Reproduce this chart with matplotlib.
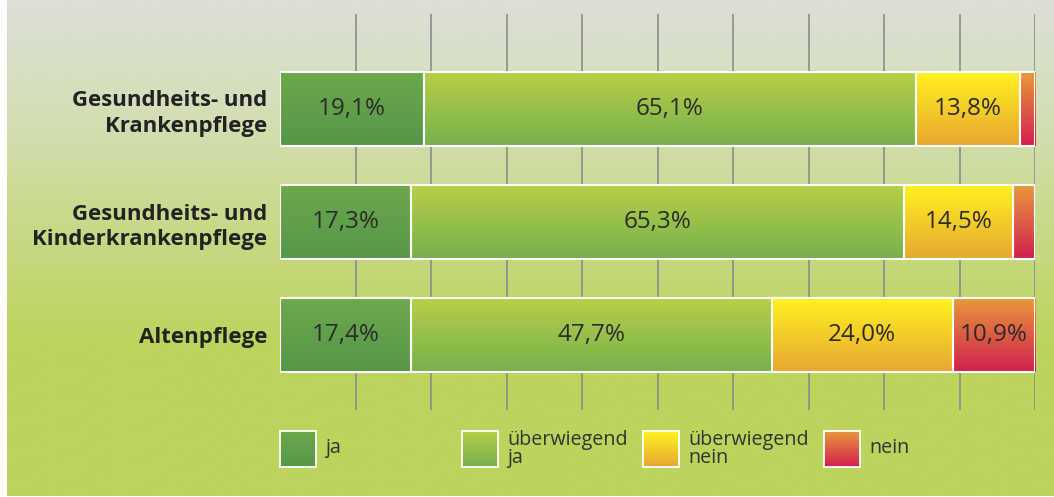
import numpy as np
import matplotlib.pyplot as plt
from matplotlib.colors import LinearSegmentedColormap, to_rgb

# data
categories = ['Gesundheits- und\nKrankenpflege',
              'Gesundheits- und\nKinderkrankenpflege',
              'Altenpflege']
series = ['ja', 'überwiegend\nja', 'überwiegend\nnein', 'nein']
ja = [19.1, 17.3, 17.4]
ueberw_ja = [65.1, 65.3, 47.7]
ueberw_nein = [13.8, 14.5, 24.0]
nein = [2.0, 2.9, 10.9]
values = [ja, ueberw_ja, ueberw_nein, nein]

# gradient colours (top, bottom) for each series
grad = [('#6ca94c', '#55964a'),
        ('#b5d046', '#78b04d'),
        ('#fff21f', '#e9a632'),
        ('#e8983a', '#d1204f')]

plt.rcParams['font.family'] = ['Open Sans', 'DejaVu Sans']
W, H = 1054, 497
fig = plt.figure(figsize=(W / 100, H / 100), dpi=100)


def vgrad(c_top, c_bot, n=64):
    t = np.linspace(0, 1, n)[:, None]
    a, b = np.array(to_rgb(c_top)), np.array(to_rgb(c_bot))
    return (a * (1 - t) + b * t)[:, None, :].reshape(n, 1, 3)


# background axes in pixel coordinates
bg = fig.add_axes([0, 0, 1, 1])
bg.set_xlim(0, W)
bg.set_ylim(H, 0)
bg.axis('off')
bg_cmap = LinearSegmentedColormap.from_list(
    'bg', [(0.0, '#dcdfd6'), (0.2, '#d5dfbb'), (0.45, '#c8da8a'),
           (0.7, '#bcd45c'), (1.0, '#bcd45c')])
bg.imshow(np.linspace(0, 1, 256)[:, None], cmap=bg_cmap, aspect='auto',
          extent=[7, W, 496, 0], zorder=0)

# legend
leg_x = [280, 462, 643, 824]
for i, name in enumerate(series):
    x0 = leg_x[i]
    bg.imshow(vgrad(*grad[i]), aspect='auto',
              extent=[x0, x0 + 36, 467, 431], zorder=2)
    bg.add_patch(plt.Rectangle((x0, 431), 36, 36, fill=False,
                               edgecolor='white', lw=1.3, zorder=3))
    y_txt = 448 if '\n' not in name else 449
    bg.text(x0 + 45, y_txt, name, fontsize=14.2, color='#333333',
            va='center', ha='left', linespacing=0.92)

# main axes: 0..100 % maps to px 280..1035
ax = fig.add_axes([280 / W, 1 - 410 / H, 755 / W, 396 / H])
ax.patch.set_visible(False)
ypos = np.arange(len(categories))
ax.set_xlim(0, 100)
ax.set_ylim(2 + 75 / 113, -95 / 113)
bar_h = 74 / 113

ax.vlines(np.arange(10, 101, 10), *ax.get_ylim(), color='#8c8c8c',
          lw=1.2, zorder=1)

left = np.zeros(len(categories))
for i, vals in enumerate(values):
    bars = ax.barh(ypos, vals, left=left, height=bar_h, facecolor='none',
                   edgecolor='white', lw=1.5, zorder=3)
    for j, b in enumerate(bars):
        x0, w = b.get_x(), b.get_width()
        y0, h = b.get_y(), b.get_height()
        ax.imshow(vgrad(*grad[i]), aspect='auto',
                  extent=[x0, x0 + w, y0 + h, y0], zorder=2)
        if vals[j] > 5:
            ax.text(x0 + w / 2, ypos[j], f'{vals[j]:.1f}%'.replace('.', ','),
                    ha='center', va='center', fontsize=17.5,
                    color='#2b2b2b', zorder=4)
    left += np.array(vals)

ax.set_xlim(0, 100)
ax.set_ylim(2 + 75 / 113, -95 / 113)
ax.set_yticks(ypos)
ax.set_yticklabels(categories, fontsize=16, fontweight='bold',
                   color='#222222', linespacing=1.3)
ax.tick_params(axis='y', length=0, pad=9)
ax.set_xticks([])
for s in ax.spines.values():
    s.set_visible(False)

plt.savefig('out.png', dpi=100)
